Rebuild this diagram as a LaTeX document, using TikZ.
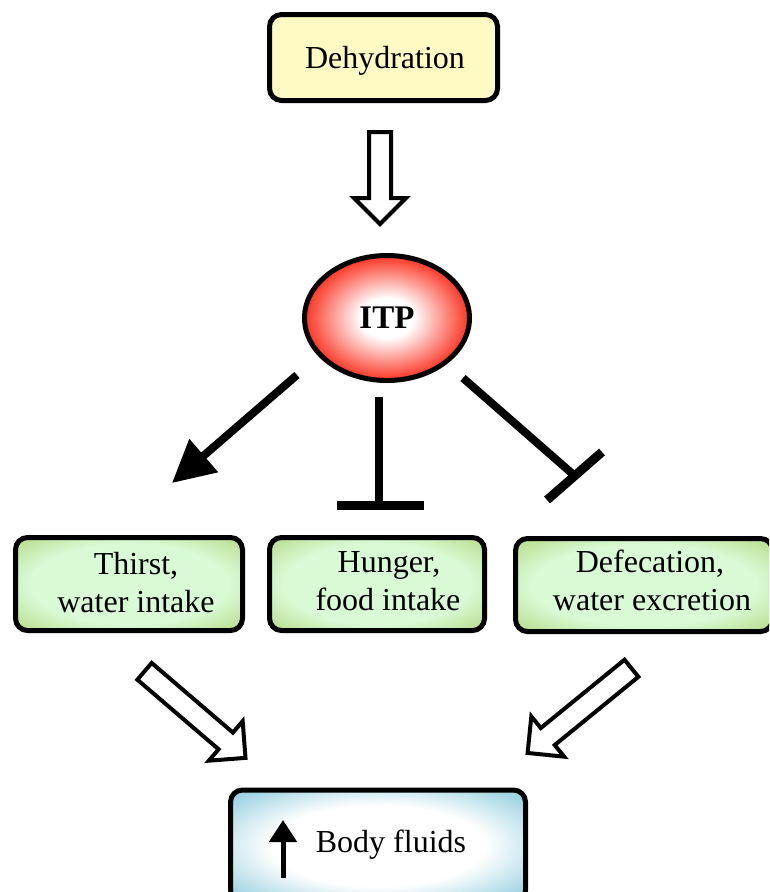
\documentclass[tikz,border=0pt]{standalone}
\usepackage{fontspec}
\setmainfont{Liberation Serif}
\usetikzlibrary{arrows.meta,shapes.geometric,calc}
\definecolor{yfill}{RGB}{255,250,196}
\definecolor{gc}{RGB}{216,250,212}
\definecolor{ge}{RGB}{186,224,148}
\definecolor{itpred}{RGB}{250,28,8}
\definecolor{be}{RGB}{160,212,226}
\pgfdeclareradialshading{greenshade}{\pgfpoint{0bp}{0bp}}{color(0bp)=(gc); color(22bp)=(gc); color(33bp)=(ge); color(50bp)=(ge)}
\pgfdeclareradialshading{redshade}{\pgfpoint{0bp}{0bp}}{color(0bp)=(white); color(8bp)=(white); color(27bp)=(itpred); color(50bp)=(itpred)}
\pgfdeclareradialshading{blueshade}{\pgfpoint{0bp}{0bp}}{color(0bp)=(white); color(18bp)=(white); color(32bp)=(be); color(50bp)=(be)}
\newcommand\hollowarrow[3]{%
  \begin{scope}[shift={#1},rotate=#2]
    \draw[hollow] (2,-11) -- ({#3-29},-11) -- ({#3-29},-26) -- ({#3-3},0) -- ({#3-29},26) -- ({#3-29},11) -- (2,11) -- cycle;
  \end{scope}}
\begin{document}
\begin{tikzpicture}[x=1pt,y=-1pt,
  txt/.style={font=\fontsize{32}{38}\selectfont, inner sep=0pt},
  box/.style={draw, line width=5pt, rounded corners=12pt, inner sep=0pt},
  ybox/.style={box, fill=yfill, minimum width=228pt, minimum height=86pt},
  gbox/.style={box, shade, shading=greenshade, minimum height=93pt},
  bbox/.style={box, shade, shading=blueshade},
  itpnode/.style={ellipse, draw, line width=5pt, shade, shading=redshade, minimum width=165pt, minimum height=125pt, inner sep=0pt, font=\fontsize{33}{38}\selectfont\bfseries},
  conn/.style={line width=8pt},
  tee/.style={line width=9pt},
  hollow/.style={draw, line width=4pt, fill=white, line join=miter},
  lbl/.style={txt, anchor=base}]
\useasboundingbox (0,0) rectangle (769,892);
\clip (0,0) rectangle (769,892);

% nodes
\node[ybox] (dehyd) at (383.5,57.5) {};
\node[itpnode] (itp) at (387,318) {ITP};
\node[gbox, minimum width=227pt] (thirst) at (129,584) {};
\node[gbox, minimum width=215pt] (hunger) at (377,584) {};
\node[gbox, minimum width=257pt] (defec) at (644,585) {};
\node[bbox, minimum width=295pt, minimum height=112pt] (body) at (378,846) {};

% labels
\node[lbl] (dl) at (385,68) {Dehydration};
\node[lbl] (t1) at (136,574) {Thirst,};
\node[lbl] (t2) at (136,612) {water intake};
\node[lbl] (h1) at (389,572) {Hunger,};
\node[lbl] (h2) at (388,610) {food intake};
\node[lbl] (d1) at (650,572) {Defecation,};
\node[lbl] (d2) at (652,610) {water excretion};
\node[lbl] (b1) at (391,852) {Body fluids};

% up arrow in body box
\coordinate (ua) at (283,878);
\coordinate (ub) at (283,820);
\draw[line width=5pt,-{Triangle[length=22pt,width=27pt]}] (ua) -- (ub);

% hollow arrows
\coordinate (ha1) at (380,130);
\coordinate (ha2) at (143,670);
\coordinate (ha3) at (633,667);
\hollowarrow{(ha1)}{-90}{97}
\hollowarrow{(ha2)}{-40.6}{138}
\hollowarrow{(ha3)}{-140.8}{139}

% ITP connectors
\coordinate (la) at (297,375);
\coordinate (lb) at (172,483);
\draw[conn,-{Triangle[length=42pt,width=42pt]}] (la) -- (lb);

\coordinate (ma) at (379,397);
\coordinate (mb) at (379,505);
\coordinate (mb1) at (337,505);
\coordinate (mb2) at (424,505);
\draw[conn] (ma) -- (mb);
\draw[tee] (mb1) -- (mb2);

\coordinate (ra) at (463,378);
\coordinate (rb) at (575,476);
\coordinate (rb1) at (547,500);
\coordinate (rb2) at (602,452);
\draw[conn] (ra) -- (rb);
\draw[tee] (rb1) -- (rb2);
\end{tikzpicture}
\end{document}
